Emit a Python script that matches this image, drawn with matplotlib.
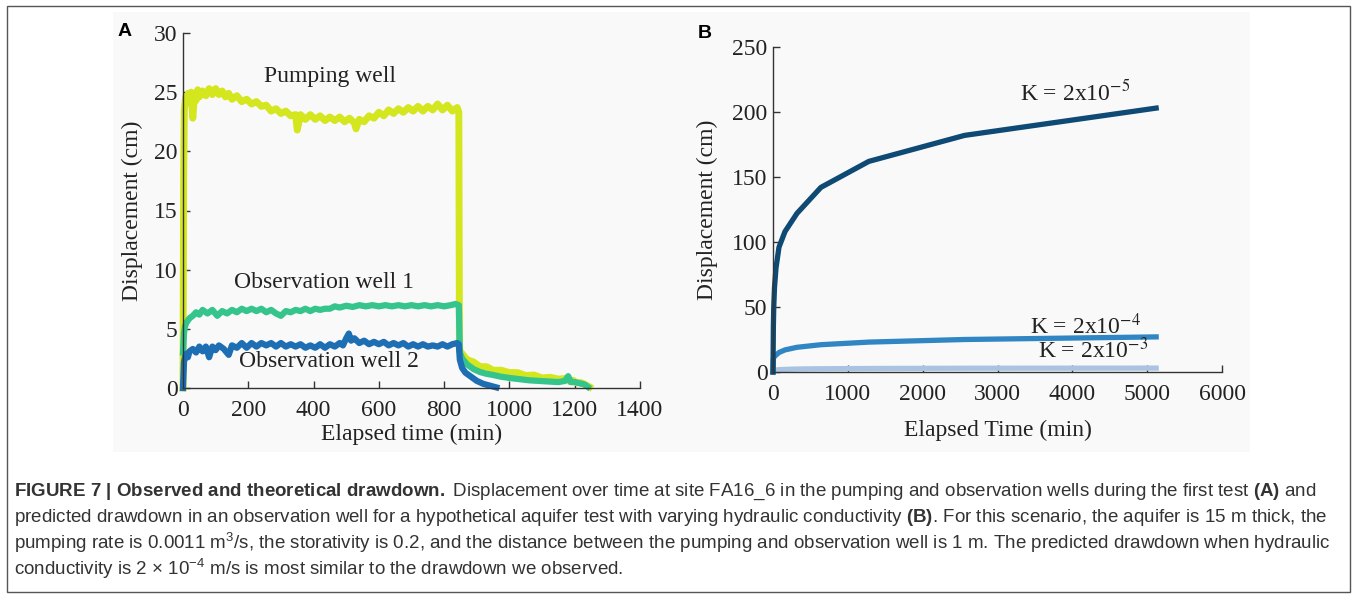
import matplotlib
matplotlib.use('Agg')
import matplotlib.pyplot as plt
from matplotlib.patches import Rectangle

# panel A: observed displacement (cm) vs elapsed time (min)
t_pump = [0, 2, 4, 8, 12, 16, 20, 25, 30, 35, 40, 45, 50, 60, 70, 80, 90, 100, 110, 120,
          130, 140, 150, 165, 180, 195, 210, 225, 240, 255, 270, 285, 300, 315, 330, 345,
          350, 360, 375, 390, 405, 420, 435, 450, 465, 480, 495, 510, 525, 530, 540, 555,
          570, 585, 600, 615, 630, 645, 660, 675, 690, 705, 720, 735, 750, 765, 780, 795,
          810, 825, 840, 845, 847, 855, 870, 890, 910, 930, 950, 975, 1000, 1025, 1050,
          1075, 1100, 1125, 1150, 1170, 1185, 1195, 1205, 1220, 1235, 1245]
pump = [0, 18, 23.5, 24.6, 24.1, 24.9, 24.3, 25.0, 22.8, 24.8, 24.3, 25.2, 24.6, 25.1, 24.7,
        25.3, 24.8, 25.3, 24.8, 25.1, 24.6, 24.9, 24.4, 24.7, 24.2, 24.4, 24.0, 24.2, 23.8,
        23.9, 23.4, 23.6, 23.2, 23.4, 23.0, 23.1, 21.8, 23.1, 22.7, 23.1, 22.7, 23.0, 22.6,
        22.9, 22.6, 22.9, 22.5, 22.8, 22.4, 21.9, 22.7, 22.5, 23.0, 22.8, 23.3, 23.0, 23.5,
        23.2, 23.6, 23.3, 23.7, 23.4, 23.8, 23.4, 23.8, 23.5, 24.0, 23.5, 23.9, 23.4, 23.7,
        23.3, 3.2, 2.9, 2.4, 2.2, 1.8, 1.8, 1.5, 1.5, 1.3, 1.3, 1.05, 1.1, 0.85, 0.9, 0.75,
        0.8, 0.55, 0.65, 0.45, 0.45, 0.25, 0.1]

t_obs1 = [0, 3, 6, 10, 15, 20, 30, 40, 50, 60, 75, 90, 105, 120, 135, 150, 165, 180, 195,
          210, 225, 240, 255, 270, 285, 300, 315, 330, 345, 360, 375, 390, 405, 420, 435,
          450, 465, 480, 500, 520, 540, 560, 580, 600, 620, 640, 660, 680, 700, 720, 740,
          760, 780, 800, 820, 835, 845, 848, 855, 870, 890, 910, 930, 950, 975, 1000, 1030,
          1060, 1090, 1120, 1150, 1170, 1180, 1188, 1200, 1215, 1230, 1240]
obs1 = [3.0, 4.6, 5.2, 5.5, 5.7, 5.9, 6.1, 6.4, 6.2, 6.6, 6.3, 6.6, 6.1, 6.5, 6.3, 6.6, 6.4,
        6.7, 6.5, 6.7, 6.5, 6.7, 6.4, 6.6, 6.3, 6.1, 6.5, 6.4, 6.6, 6.5, 6.7, 6.5, 6.7, 6.6,
        6.7, 6.7, 6.9, 6.8, 6.95, 6.85, 7.0, 6.9, 7.0, 6.9, 7.0, 6.9, 7.0, 6.9, 7.0, 6.9,
        7.0, 6.9, 7.0, 6.9, 7.0, 7.1, 7.0, 3.0, 2.5, 2.0, 1.6, 1.35, 1.2, 1.1, 0.95, 0.85,
        0.75, 0.65, 0.6, 0.55, 0.5, 0.6, 1.0, 0.5, 0.5, 0.4, 0.3, 0.1]

t_obs2 = [0, 3, 6, 10, 15, 20, 30, 40, 50, 60, 70, 80, 90, 100, 110, 125, 140, 150, 165,
          180, 195, 210, 225, 240, 255, 270, 285, 300, 315, 330, 345, 360, 375, 390, 405,
          420, 435, 450, 465, 480, 490, 500, 508, 515, 525, 540, 555, 570, 585, 600, 615,
          630, 645, 660, 675, 690, 705, 720, 735, 750, 765, 780, 795, 810, 825, 840, 845,
          848, 855, 865, 880, 900, 920, 940, 960]
obs2 = [0, 2.2, 2.6, 2.9, 2.6, 3.1, 3.3, 3.0, 3.5, 3.1, 3.5, 2.6, 3.5, 3.2, 3.6, 3.3, 2.8,
        3.6, 3.4, 3.8, 3.4, 3.8, 3.5, 3.8, 3.6, 3.8, 3.5, 3.8, 3.5, 3.7, 3.5, 3.7, 3.4, 3.6,
        3.4, 3.7, 3.4, 3.7, 3.5, 3.8, 3.6, 4.2, 4.6, 4.0, 4.2, 3.8, 4.0, 3.7, 3.9, 3.7, 3.9,
        3.6, 3.8, 3.6, 3.8, 3.5, 3.7, 3.5, 3.7, 3.5, 3.6, 3.5, 3.7, 3.5, 3.7, 3.8, 3.7, 2.4,
        1.7, 1.3, 1.0, 0.6, 0.35, 0.2, 0.05]

# panel B: predicted drawdown (cm) for three hydraulic conductivities
t_pred = [0, 5, 10, 20, 40, 80, 160, 320, 640, 1280, 2560, 5120]
k_2e5 = [0, 35, 50, 65, 80, 96, 108, 122, 142, 162, 182, 203]
k_2e4 = [0, 10, 11, 12, 13, 15, 17, 19, 21, 23, 25, 27]
k_2e3 = [0, 0.8, 1.0, 1.2, 1.5, 1.8, 2.0, 2.3, 2.5, 2.7, 2.9, 3.0]

col_pump = '#d4e61e'
col_obs1 = '#34c48c'
col_obs2 = '#1e6eb4'
col_k5 = '#0e4a74'
col_k4 = '#2f86c2'
col_k3 = '#a9c4e2'

plt.rcParams['font.family'] = 'Liberation Serif'
plt.rcParams['mathtext.fontset'] = 'custom'
plt.rcParams['mathtext.rm'] = 'Liberation Sans'
plt.rcParams['mathtext.bf'] = 'Liberation Sans:bold'
plt.rcParams['mathtext.it'] = 'Liberation Sans:italic'

fig = plt.figure(figsize=(13.57, 5.96), dpi=100)
W, H = 1357, 596

def px(x0, y0, x1, y1):
    return [x0 / W, 1 - y1 / H, (x1 - x0) / W, (y1 - y0) / H]

# light image background and outer frame
fig.patches.append(Rectangle((113 / W, 1 - 452 / H), (1250 - 113) / W, 440 / H,
                             transform=fig.transFigure, facecolor='#f9f9f9',
                             edgecolor='none', zorder=-2))
fig.patches.append(Rectangle((7 / W, 1 - 592 / H), 1343 / W, 586 / H,
                             transform=fig.transFigure, facecolor='none',
                             edgecolor='#555555', lw=1.0, zorder=-1))

tick_fs = 17
lab_fs = 17

def style(ax):
    ax.set_facecolor('none')
    for s in ['top', 'right']:
        ax.spines[s].set_visible(False)
    for s in ['left', 'bottom']:
        ax.spines[s].set_color('#333333')
        ax.spines[s].set_linewidth(1.0)
    ax.tick_params(direction='in', length=5, width=1, color='#333333',
                   labelsize=tick_fs, pad=4, labelcolor='#222222')
    ax.tick_params(axis='x', pad=9)

axA = fig.add_axes(px(183, 33, 640, 388))
axA.plot(t_pump, pump, color=col_pump, lw=5, clip_on=False, solid_joinstyle='round')
axA.plot(t_obs1, obs1, color=col_obs1, lw=4.5, clip_on=False, solid_joinstyle='round')
axA.plot(t_obs2, obs2, color=col_obs2, lw=4.5, clip_on=False, solid_joinstyle='round')
axA.set_xlim(0, 1400)
axA.set_ylim(0, 30)
axA.set_xticks(range(0, 1401, 200))
axA.set_yticks(range(0, 31, 5))
style(axA)
axA.set_xlabel('Elapsed time (min)', fontsize=lab_fs, labelpad=2, color='#222222')
axA.set_ylabel('Displacement (cm)', fontsize=lab_fs, labelpad=8, color='#222222')
axA.text(450, 26.3, 'Pumping well', fontsize=lab_fs, ha='center', va='center', color='#222222')
axA.text(432, 8.9, 'Observation well 1', fontsize=lab_fs, ha='center', va='center', color='#222222')
axA.text(447, 2.2, 'Observation well 2', fontsize=lab_fs, ha='center', va='center', color='#222222')

axB = fig.add_axes(px(773, 47, 1222, 372))
axB.plot(t_pred, k_2e3, color=col_k3, lw=3.8, clip_on=False)
axB.plot(t_pred, k_2e4, color=col_k4, lw=3.8, clip_on=False)
axB.plot(t_pred, k_2e5, color=col_k5, lw=3.8, clip_on=False)
axB.set_xlim(0, 6000)
axB.set_ylim(0, 250)
axB.set_xticks(range(0, 6001, 1000))
axB.set_yticks(range(0, 251, 50))
style(axB)
axB.set_xlabel('Elapsed Time (min)', fontsize=lab_fs, labelpad=10, color='#222222')
axB.set_ylabel('Displacement (cm)', fontsize=lab_fs, labelpad=10, color='#222222')
for x, y, e in [(4040, 215, '-5'), (4170, 35, '-4'), (4280, 17, '-3')]:
    axB.text(x, y, 'K = 2x10$^{' + e + '}$', fontsize=lab_fs, ha='center', va='center',
             color='#222222', math_fontfamily='stix')

fig.text(118 / W, 1 - 32 / H, 'A', fontsize=14, fontweight='bold', family='Liberation Sans',
         va='center', ha='left')
fig.text(698 / W, 1 - 34 / H, 'B', fontsize=14, fontweight='bold', family='Liberation Sans',
         va='center', ha='left')

# caption
cap = [
    r'$\mathbf{FIGURE\ 7\ |\ Observed\ and\ theoretical\ drawdown.}$ Displacement over time at site FA16_6 in the pumping and observation wells during the first test $\mathbf{(A)}$ and',
    r'predicted drawdown in an observation well for a hypothetical aquifer test with varying hydraulic conductivity $\mathbf{(B)}$. For this scenario, the aquifer is 15 m thick, the',
    r'pumping rate is 0.0011 m$^{3}$/s, the storativity is 0.2, and the distance between the pumping and observation well is 1 m. The predicted drawdown when hydraulic',
    r'conductivity is 2 × 10$^{-4}$ m/s is most similar to the drawdown we observed.',
]
cap_y = [492, 518, 543, 569]
texts = []
for s, y in zip(cap, cap_y):
    t = fig.text(14 / W, 1 - y / H, s, fontsize=10, family='Liberation Sans',
                 color='#333333', va='center', ha='left', math_fontfamily='custom')
    texts.append(t)

fig.canvas.draw()
w = texts[0].get_window_extent().width
size = 10 * (1318 - 14) / w
for t in texts:
    t.set_fontsize(size)

fig.savefig('out.png', dpi=100)
